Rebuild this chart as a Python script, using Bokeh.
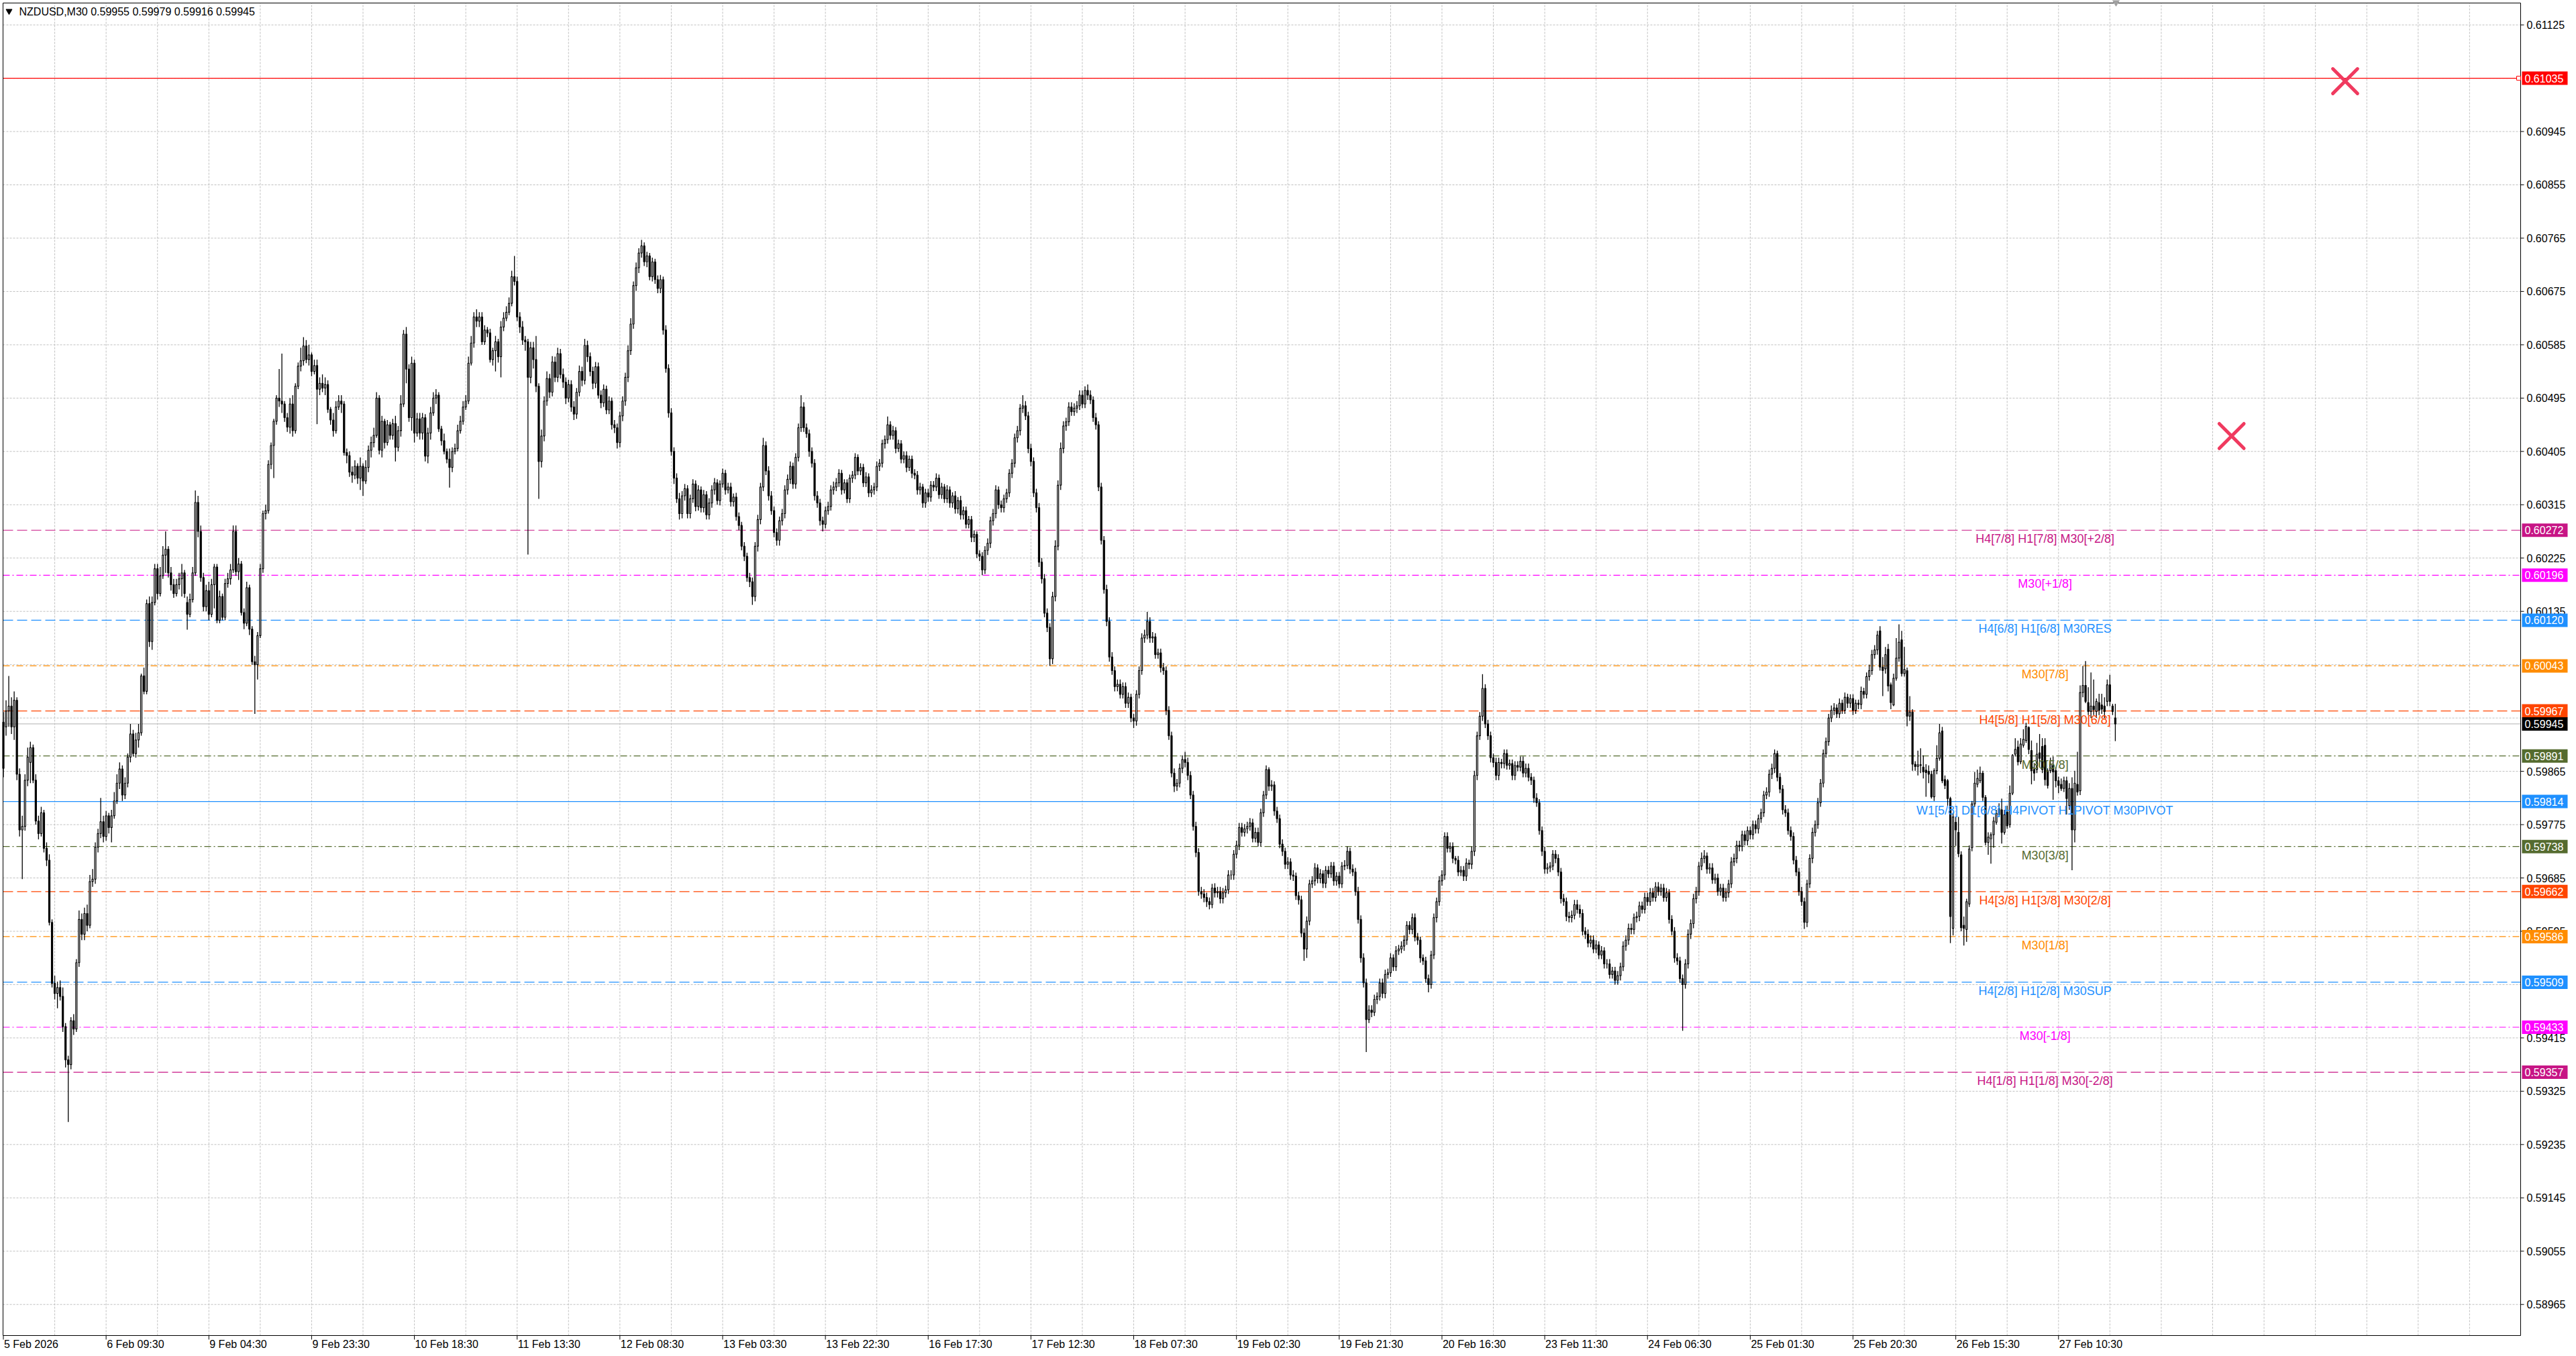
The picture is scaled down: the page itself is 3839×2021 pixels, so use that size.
from bokeh.plotting import figure
from bokeh.models import Range1d, ColumnDataSource
from bokeh.core.properties import value
from bokeh.embed import file_html
from bokeh.resources import INLINE

# ======================= data =======================
HEADER = "NZDUSD,M30  0.59955 0.59979 0.59916 0.59945"
BASE = 0.59          # OHLC values below are points (0.00001) above BASE
POINT = 0.00001

OPEN = [948, 940, 967, 975, 940, 985, 860, 766, 772, 850,
        880, 905, 850, 781, 760, 795, 735, 715, 610, 507,
        490, 500, 485, 434, 378, 370, 444, 430, 542, 615,
        590, 625, 605, 679, 683, 737, 760, 780, 755, 790,
        770, 790, 815, 845, 869, 825, 845, 889, 928, 895,
        918, 930, 1026, 1000, 1148, 1084, 1150, 1207, 1165, 1195,
        1230, 1240, 1200, 1180, 1165, 1180, 1190, 1200, 1150, 1130,
        1155, 1200, 1319, 1270, 1192, 1143, 1170, 1130, 1180, 1210,
        1120, 1160, 1125, 1182, 1190, 1205, 1270, 1202, 1215, 1133,
        1115, 1175, 1105, 1050, 1045, 1094, 1207, 1300, 1305, 1383,
        1415, 1456, 1495, 1490, 1485, 1462, 1446, 1485, 1440, 1515,
        1549, 1558, 1583, 1560, 1568, 1540, 1550, 1510, 1520, 1512,
        1518, 1476, 1458, 1440, 1480, 1490, 1485, 1403, 1398, 1370,
        1365, 1380, 1360, 1380, 1355, 1378, 1407, 1420, 1432, 1495,
        1407, 1456, 1420, 1450, 1432, 1452, 1412, 1440, 1485, 1603,
        1544, 1462, 1554, 1436, 1460, 1436, 1462, 1397, 1436, 1470,
        1495, 1500, 1443, 1423, 1405, 1392, 1378, 1405, 1410, 1440,
        1456, 1480, 1490, 1554, 1588, 1632, 1625, 1632, 1590, 1610,
        1605, 1560, 1575, 1590, 1565, 1615, 1630, 1640, 1655, 1700,
        1692, 1632, 1615, 1593, 1590, 1530, 1580, 1560, 1515,
        1388, 1431, 1490, 1528, 1505, 1556, 1530, 1570, 1535, 1522,
        1495, 1518, 1480, 1468, 1505, 1540, 1525, 1584, 1565, 1540,
        1520, 1548, 1500, 1487, 1510, 1475, 1490, 1450, 1445, 1420,
        1465, 1490, 1530, 1575, 1620, 1685, 1715, 1740, 1752, 1725,
        1735, 1700, 1725, 1695, 1680, 1695, 1610, 1545, 1470, 1405,
        1360, 1325, 1300, 1330, 1342, 1300, 1325, 1350, 1312, 1340,
        1310, 1332, 1298, 1318, 1340, 1352, 1322, 1350, 1368, 1340,
        1345, 1320, 1328, 1295, 1280, 1245, 1228, 1192, 1185, 1160,
        1245, 1290, 1345, 1415, 1372, 1330, 1305, 1268, 1255, 1288,
        1300, 1340, 1358, 1380, 1350, 1395, 1445, 1480, 1445, 1435,
        1405, 1385, 1330, 1318, 1288, 1282, 1305, 1312, 1340, 1345,
        1352, 1368, 1340, 1352, 1325, 1360, 1365, 1395, 1372, 1378,
        1352, 1362, 1335, 1340, 1345, 1380, 1385, 1418, 1425, 1450,
        1432, 1440, 1410, 1418, 1392, 1398, 1378, 1392, 1368, 1365,
        1340, 1345, 1318, 1335, 1328, 1348, 1345, 1360, 1332, 1345,
        1325, 1340, 1318, 1330, 1308, 1322, 1298, 1305, 1282, 1290,
        1260, 1265, 1232, 1228, 1205, 1238, 1250, 1288, 1300, 1340,
        1315, 1310, 1325, 1335, 1368, 1385, 1428, 1440, 1478, 1482,
        1465, 1410, 1388, 1335, 1310, 1218, 1190, 1132, 1108, 1055,
        1160, 1245, 1348, 1410, 1448, 1455, 1480, 1472, 1478, 1482,
        1500, 1485, 1508, 1500, 1492, 1462, 1450, 1345, 1255, 1172,
        1118, 1058, 1035, 1008, 1012, 995, 1008, 980, 990, 955,
        950, 995, 1035, 1090, 1095, 1118, 1090, 1092, 1062, 1065,
        1040, 1035, 968, 925, 862, 840, 845, 870, 885, 880,
        858, 825, 772, 728, 662, 658, 652, 645, 640, 668,
        660, 662, 650, 660, 665, 690, 690, 725, 740, 770,
        762, 768, 772, 778, 752, 762, 745, 795, 825, 868,
        840, 842, 798, 785, 742, 730, 708, 712, 690, 688,
        655, 648, 592, 565, 612, 675, 680, 702, 684, 692,
        676, 698, 692, 705, 680, 688, 675, 705, 706, 730,
        700, 695, 662, 615, 550, 508, 446, 462, 458, 480,
        485, 508, 490, 522, 525, 550, 535, 562, 565, 570,
        580, 605, 598, 618, 585, 580, 550, 545, 515, 505,
        555, 618, 645, 680, 690, 755, 735, 738, 718, 715,
        695, 698, 688, 710, 708, 730, 858, 925, 958, 1005,
        945, 925, 888, 880, 858, 880, 878, 895, 875, 878,
        858, 875, 872, 882, 862, 870, 855, 850, 820, 812,
        765, 730, 700, 702, 705, 725, 718, 695, 650, 645,
        620, 618, 622, 640, 632, 625, 595, 590, 575, 580,
        565, 572, 555, 562, 540, 540, 522, 528, 512, 520,
        535, 570, 580, 600, 598, 618, 620, 638, 632, 652,
        645, 660, 652, 670, 662, 668, 652, 660, 615, 595,
        550, 545, 515, 505, 540, 590, 608, 650, 662, 705,
        718, 722, 700, 702, 682, 685, 662, 668, 652, 660,
        675, 712, 718, 740, 738, 758, 748, 765, 758, 775,
        768, 785, 795, 825, 830, 860, 870, 895, 855, 835,
        800, 795, 765, 755, 715, 695, 662, 645, 610, 675,
        718, 762, 775, 812, 845, 895, 915, 955, 968, 972,
        962, 980, 968, 990, 980, 988, 968, 980, 978, 1000,
        995, 1025, 1035, 1062, 1070,
        1102, 1041, 1038, 1071, 1011, 977, 1022, 1056, 1087, 1030,
        1035, 958, 965, 877, 873, 876, 872, 867, 865, 860,
        822, 866, 887, 933, 851, 849, 819, 600, 779, 762,
        724, 605, 598, 641, 736, 810, 843, 849, 862, 821,
        745, 751, 758, 779, 792, 800, 762, 796, 775, 828,
        894, 906, 881, 909, 917, 939, 900, 868, 868, 896,
        907, 909, 866, 866, 875, 866, 849, 843, 836, 849,
        807, 836, 766, 843, 832, 998, 1010, 981, 966, 975,
        966, 981, 977, 975, 983, 1011, 975, 955]

HIGH = [965, 985, 1026, 990, 1000, 990, 870, 790, 860, 905,
        915, 910, 860, 790, 805, 800, 745, 725, 615, 520,
        510, 512, 500, 440, 385, 450, 455, 548, 630, 625,
        635, 640, 690, 700, 745, 768, 820, 790, 798, 795,
        800, 830, 860, 880, 875, 855, 895, 945, 935, 930,
        945, 1030, 1040, 1155, 1160, 1160, 1215, 1215, 1210, 1245,
        1270, 1245, 1210, 1190, 1190, 1200, 1215, 1205, 1160, 1165,
        1210, 1339, 1330, 1280, 1200, 1180, 1185, 1190, 1215, 1215,
        1170, 1165, 1190, 1200, 1215, 1280, 1280, 1225, 1220, 1140,
        1185, 1180, 1110, 1060, 1100, 1215, 1305, 1315, 1390, 1420,
        1460, 1500, 1544, 1570, 1490, 1470, 1495, 1500, 1520, 1555,
        1580, 1598, 1593, 1585, 1572, 1560, 1560, 1530, 1535, 1530,
        1525, 1480, 1470, 1490, 1500, 1500, 1490, 1410, 1405, 1380,
        1390, 1385, 1395, 1385, 1390, 1415, 1430, 1445, 1505, 1500,
        1465, 1460, 1458, 1455, 1460, 1465, 1448, 1500, 1610, 1615,
        1552, 1565, 1560, 1470, 1470, 1470, 1468, 1445, 1480, 1505,
        1510, 1505, 1448, 1435, 1410, 1410, 1412, 1418, 1450, 1465,
        1490, 1500, 1565, 1600, 1640, 1645, 1640, 1640, 1618, 1615,
        1612, 1580, 1600, 1595, 1625, 1640, 1650, 1665, 1710, 1735,
        1700, 1640, 1625, 1600, 1595, 1590, 1590, 1600, 1520,
        1442, 1498, 1540, 1536, 1566, 1565, 1580, 1578, 1545, 1530,
        1526, 1525, 1490, 1512, 1550, 1548, 1595, 1592, 1572, 1548,
        1556, 1555, 1508, 1518, 1516, 1498, 1496, 1458, 1452, 1472,
        1498, 1538, 1584, 1630, 1692, 1724, 1748, 1762, 1758, 1742,
        1740, 1732, 1730, 1702, 1703, 1700, 1618, 1552, 1478, 1412,
        1368, 1335, 1338, 1350, 1348, 1332, 1358, 1356, 1348, 1346,
        1340, 1338, 1326, 1348, 1360, 1358, 1356, 1376, 1374, 1352,
        1352, 1334, 1335, 1302, 1286, 1252, 1234, 1200, 1192, 1252,
        1298, 1352, 1428, 1422, 1380, 1338, 1312, 1275, 1295, 1308,
        1348, 1366, 1388, 1386, 1402, 1452, 1500, 1488, 1452, 1442,
        1412, 1392, 1338, 1325, 1295, 1312, 1320, 1348, 1354, 1360,
        1375, 1374, 1358, 1358, 1366, 1372, 1402, 1400, 1385, 1384,
        1370, 1368, 1348, 1352, 1388, 1392, 1425, 1432, 1464, 1456,
        1448, 1446, 1425, 1424, 1405, 1405, 1398, 1398, 1375, 1372,
        1352, 1350, 1342, 1342, 1355, 1355, 1368, 1366, 1352, 1350,
        1348, 1346, 1336, 1338, 1328, 1330, 1312, 1312, 1296, 1296,
        1272, 1270, 1238, 1235, 1245, 1258, 1295, 1308, 1348, 1346,
        1322, 1332, 1342, 1375, 1392, 1435, 1448, 1485, 1500, 1490,
        1472, 1418, 1395, 1342, 1318, 1225, 1198, 1140, 1115, 1168,
        1255, 1356, 1420, 1456, 1462, 1488, 1488, 1486, 1490, 1508,
        1508, 1515, 1518, 1508, 1498, 1470, 1456, 1352, 1262, 1180,
        1125, 1066, 1042, 1020, 1020, 1015, 1015, 998, 996, 962,
        1002, 1042, 1098, 1104, 1134, 1125, 1100, 1098, 1072, 1072,
        1048, 1042, 975, 932, 870, 852, 878, 892, 898, 888,
        865, 832, 780, 735, 670, 666, 660, 652, 675, 676,
        670, 670, 668, 672, 698, 698, 732, 748, 778, 778,
        776, 780, 786, 785, 770, 770, 802, 832, 875, 872,
        850, 848, 805, 792, 750, 736, 720, 718, 698, 694,
        662, 655, 600, 620, 682, 688, 710, 708, 700, 698,
        705, 705, 712, 712, 695, 695, 712, 715, 738, 736,
        708, 702, 670, 622, 558, 515, 470, 470, 488, 492,
        515, 515, 530, 532, 558, 556, 570, 572, 578, 588,
        612, 612, 625, 625, 592, 586, 556, 552, 522, 562,
        625, 652, 688, 698, 762, 762, 745, 745, 722, 722,
        705, 705, 718, 716, 738, 866, 932, 965, 1029, 1012,
        952, 932, 895, 888, 888, 886, 902, 902, 885, 885,
        882, 882, 890, 890, 878, 878, 862, 856, 828, 818,
        772, 738, 710, 712, 732, 732, 725, 702, 658, 652,
        628, 630, 648, 648, 640, 632, 602, 598, 588, 588,
        580, 578, 570, 568, 548, 548, 535, 535, 528, 542,
        578, 588, 608, 608, 625, 628, 645, 645, 660, 660,
        668, 668, 678, 678, 675, 675, 668, 666, 622, 602,
        558, 552, 522, 548, 598, 615, 658, 670, 712, 728,
        732, 728, 710, 710, 692, 692, 675, 675, 668, 682,
        720, 726, 748, 748, 765, 765, 772, 772, 782, 782,
        792, 802, 832, 838, 868, 878, 902, 900, 862, 842,
        808, 802, 772, 762, 722, 702, 670, 652, 682, 725,
        770, 782, 820, 852, 902, 922, 962, 976, 980, 978,
        988, 986, 998, 996, 995, 995, 986, 986, 1008, 1006,
        1032, 1045, 1070, 1078, 1102,
        1110, 1058, 1075, 1080, 1015, 1030, 1090, 1113, 1102, 1075,
        1040, 992, 970, 882, 900, 904, 892, 877, 875, 866,
        870, 909, 945, 940, 858, 852, 822, 795, 788, 788,
        730, 620, 650, 740, 815, 864, 868, 873, 866, 825,
        762, 762, 788, 800, 811, 819, 800, 807, 841, 894,
        921, 917, 921, 936, 947, 941, 917, 879, 913, 928,
        921, 921, 870, 888, 890, 872, 856, 853, 856, 856,
        845, 855, 866, 898, 1010, 1043, 1051, 1007, 1032, 1020,
        988, 996, 996, 990, 1020, 1028, 979, 979]

LOW = [855, 925, 940, 928, 918, 850, 755, 683, 765, 840,
       845, 845, 775, 750, 755, 728, 705, 605, 500, 480,
       465, 478, 425, 365, 273, 362, 420, 425, 535, 580,
       580, 595, 600, 670, 675, 728, 752, 745, 748, 760,
       745, 785, 810, 835, 815, 818, 838, 880, 890, 888,
       905, 925, 995, 995, 1075, 1070, 1145, 1155, 1160, 1190,
       1200, 1192, 1170, 1158, 1160, 1172, 1160, 1158, 1104, 1125,
       1150, 1195, 1260, 1185, 1135, 1135, 1120, 1125, 1140, 1115,
       1115, 1120, 1120, 1175, 1180, 1200, 1195, 1188, 1128, 1105,
       1110, 1095, 1045, 962, 1020, 1090, 1200, 1290, 1300, 1375,
       1360, 1450, 1480, 1470, 1455, 1438, 1435, 1430, 1435, 1510,
       1540, 1550, 1554, 1550, 1532, 1535, 1451, 1500, 1505, 1500,
       1470, 1450, 1430, 1435, 1475, 1470, 1398, 1385, 1362, 1352,
       1358, 1350, 1340, 1330, 1350, 1370, 1395, 1412, 1428, 1400,
       1395, 1410, 1415, 1425, 1425, 1388, 1405, 1430, 1480, 1520,
       1455, 1440, 1420, 1430, 1425, 1425, 1388, 1385, 1425, 1465,
       1485, 1438, 1415, 1400, 1385, 1344, 1370, 1400, 1405, 1435,
       1450, 1475, 1485, 1550, 1580, 1615, 1615, 1585, 1585, 1598,
       1555, 1550, 1540, 1555, 1530, 1608, 1625, 1635, 1650, 1685,
       1625, 1605, 1585, 1575, 1231, 1520, 1545, 1505, 1325,
       1378, 1422, 1482, 1495, 1498, 1522, 1522, 1528, 1512, 1485,
       1488, 1472, 1458, 1460, 1498, 1515, 1518, 1556, 1532, 1510,
       1512, 1494, 1478, 1480, 1468, 1468, 1442, 1436, 1410, 1412,
       1456, 1482, 1522, 1568, 1612, 1676, 1706, 1732, 1718, 1716,
       1694, 1692, 1688, 1672, 1672, 1602, 1538, 1462, 1398, 1350,
       1318, 1290, 1292, 1322, 1292, 1292, 1318, 1304, 1305, 1302,
       1302, 1290, 1290, 1310, 1332, 1315, 1314, 1344, 1332, 1334,
       1312, 1312, 1288, 1272, 1238, 1220, 1185, 1176, 1146, 1152,
       1236, 1282, 1338, 1365, 1322, 1298, 1260, 1246, 1246, 1280,
       1292, 1332, 1350, 1342, 1342, 1388, 1438, 1438, 1428, 1396,
       1378, 1322, 1310, 1280, 1270, 1275, 1298, 1305, 1332, 1338,
       1345, 1332, 1334, 1318, 1318, 1352, 1358, 1365, 1365, 1345,
       1345, 1328, 1328, 1332, 1338, 1372, 1378, 1410, 1418, 1425,
       1425, 1402, 1404, 1385, 1385, 1370, 1372, 1360, 1358, 1332,
       1332, 1310, 1310, 1320, 1320, 1338, 1338, 1325, 1325, 1318,
       1318, 1310, 1310, 1300, 1300, 1290, 1290, 1275, 1275, 1252,
       1252, 1225, 1220, 1196, 1198, 1230, 1242, 1280, 1292, 1308,
       1302, 1302, 1318, 1328, 1360, 1378, 1420, 1432, 1470, 1458,
       1402, 1380, 1328, 1302, 1210, 1182, 1125, 1100, 1043, 1046,
       1152, 1238, 1340, 1402, 1440, 1448, 1465, 1465, 1470, 1475,
       1478, 1478, 1492, 1485, 1455, 1442, 1338, 1248, 1165, 1110,
       1050, 1028, 1000, 1000, 988, 988, 972, 972, 948, 938,
       942, 988, 1028, 1082, 1088, 1082, 1082, 1055, 1055, 1032,
       1028, 960, 918, 855, 830, 832, 838, 862, 872, 850,
       818, 765, 720, 655, 650, 644, 636, 632, 634, 652,
       652, 642, 642, 652, 658, 682, 682, 718, 732, 755,
       755, 760, 765, 745, 745, 738, 738, 788, 818, 832,
       832, 790, 778, 735, 722, 700, 700, 682, 680, 648,
       640, 585, 545, 550, 605, 668, 672, 676, 676, 668,
       668, 685, 685, 672, 672, 668, 668, 698, 700, 692,
       688, 655, 608, 542, 500, 391, 440, 450, 452, 472,
       478, 482, 482, 515, 518, 528, 528, 555, 558, 562,
       572, 590, 590, 578, 572, 542, 538, 508, 492, 498,
       548, 610, 638, 672, 682, 728, 728, 710, 708, 688,
       688, 680, 680, 700, 700, 722, 850, 918, 950, 938,
       918, 880, 872, 850, 850, 870, 870, 868, 868, 850,
       850, 865, 865, 855, 855, 848, 842, 812, 805, 758,
       722, 692, 692, 695, 698, 710, 688, 642, 638, 612,
       610, 610, 615, 625, 618, 588, 582, 568, 568, 558,
       558, 548, 548, 532, 532, 515, 515, 505, 505, 512,
       528, 562, 572, 590, 590, 610, 612, 625, 625, 638,
       638, 645, 645, 655, 655, 645, 645, 608, 588, 542,
       538, 508, 427, 498, 532, 582, 600, 642, 655, 698,
       710, 692, 692, 675, 675, 655, 655, 645, 645, 652,
       668, 705, 710, 730, 730, 740, 740, 750, 750, 760,
       760, 778, 788, 818, 822, 852, 862, 848, 828, 792,
       788, 758, 748, 708, 688, 655, 638, 599, 602, 668,
       710, 755, 768, 805, 838, 888, 908, 948, 960, 955,
       955, 962, 962, 972, 972, 960, 962, 970, 970, 988,
       988, 1018, 1028, 1055, 1062,
       1035, 992, 1030, 1000, 970, 975, 1018, 1050, 1025, 1025,
       941, 950, 866, 866, 858, 862, 853, 822, 845, 819,
       815, 860, 883, 845, 835, 807, 575, 588, 739, 720,
       595, 571, 577, 636, 730, 805, 838, 845, 815, 740,
       724, 709, 736, 775, 788, 743, 758, 768, 770, 825,
       890, 875, 877, 905, 913, 894, 843, 849, 862, 872,
       862, 841, 836, 862, 817, 838, 828, 832, 830, 792,
       800, 698, 745, 824, 825, 990, 980, 960, 955, 960,
       955, 960, 962, 955, 975, 975, 960, 916]

CLOSE = [870, 967, 975, 940, 985, 860, 766, 772, 850, 889,
         905, 850, 781, 760, 795, 735, 715, 610, 507, 490,
         500, 485, 434, 378, 370, 444, 430, 542, 615, 590,
         625, 605, 679, 683, 737, 760, 780, 755, 790, 770,
         790, 815, 845, 869, 825, 845, 889, 928, 895, 918,
         930, 1026, 1000, 1148, 1084, 1150, 1207, 1165, 1195, 1230,
         1240, 1200, 1180, 1165, 1180, 1190, 1200, 1165, 1130, 1155,
         1200, 1319, 1270, 1192, 1143, 1170, 1130, 1180, 1210, 1120,
         1160, 1125, 1182, 1190, 1205, 1270, 1202, 1215, 1133, 1115,
         1175, 1105, 1050, 1045, 1094, 1207, 1300, 1305, 1383, 1415,
         1456, 1495, 1490, 1485, 1462, 1446, 1485, 1440, 1515, 1549,
         1558, 1583, 1560, 1568, 1540, 1550, 1510, 1520, 1512, 1518,
         1476, 1458, 1440, 1480, 1490, 1485, 1403, 1398, 1370, 1365,
         1380, 1360, 1380, 1355, 1378, 1407, 1420, 1432, 1495, 1407,
         1456, 1420, 1450, 1432, 1452, 1412, 1440, 1485, 1603, 1544,
         1462, 1554, 1436, 1460, 1436, 1462, 1397, 1436, 1470, 1495,
         1500, 1443, 1423, 1405, 1392, 1378, 1405, 1410, 1440, 1456,
         1480, 1490, 1554, 1588, 1632, 1625, 1632, 1590, 1610, 1605,
         1560, 1575, 1590, 1565, 1615, 1630, 1640, 1655, 1700, 1692,
         1632, 1615, 1593, 1590, 1530, 1580, 1560, 1515, 1388,
         1431, 1490, 1528, 1505, 1556, 1530, 1570, 1535, 1522, 1495,
         1518, 1480, 1468, 1505, 1540, 1525, 1584, 1565, 1540, 1520,
         1548, 1500, 1487, 1510, 1475, 1490, 1450, 1445, 1420, 1465,
         1490, 1530, 1575, 1620, 1685, 1715, 1740, 1752, 1725, 1735,
         1700, 1725, 1695, 1680, 1695, 1610, 1545, 1470, 1405, 1360,
         1325, 1300, 1330, 1342, 1300, 1325, 1350, 1312, 1340, 1310,
         1332, 1298, 1318, 1340, 1352, 1322, 1350, 1368, 1340, 1345,
         1320, 1328, 1295, 1280, 1245, 1228, 1192, 1185, 1160, 1245,
         1290, 1345, 1415, 1372, 1330, 1305, 1268, 1255, 1288, 1300,
         1340, 1358, 1380, 1350, 1395, 1445, 1480, 1445, 1435, 1405,
         1385, 1330, 1318, 1288, 1282, 1305, 1312, 1340, 1345, 1352,
         1368, 1340, 1352, 1325, 1360, 1365, 1395, 1372, 1378, 1352,
         1362, 1335, 1340, 1345, 1380, 1385, 1418, 1425, 1450, 1432,
         1440, 1410, 1418, 1392, 1398, 1378, 1392, 1368, 1365, 1340,
         1345, 1318, 1335, 1328, 1348, 1345, 1360, 1332, 1345, 1325,
         1340, 1318, 1330, 1308, 1322, 1298, 1305, 1282, 1290, 1260,
         1265, 1232, 1228, 1205, 1238, 1250, 1288, 1300, 1340, 1315,
         1310, 1325, 1335, 1368, 1385, 1428, 1440, 1478, 1482, 1465,
         1410, 1388, 1335, 1310, 1218, 1190, 1132, 1108, 1055, 1160,
         1245, 1348, 1410, 1448, 1455, 1480, 1472, 1478, 1482, 1500,
         1485, 1508, 1500, 1492, 1462, 1450, 1345, 1255, 1172, 1118,
         1058, 1035, 1008, 1012, 995, 1008, 980, 990, 955, 950,
         995, 1035, 1090, 1095, 1118, 1090, 1092, 1062, 1065, 1040,
         1035, 968, 925, 862, 840, 845, 870, 885, 880, 858,
         825, 772, 728, 662, 658, 652, 645, 640, 668, 660,
         662, 650, 660, 665, 690, 690, 725, 740, 770, 762,
         768, 772, 778, 752, 762, 745, 795, 825, 868, 840,
         842, 798, 785, 742, 730, 708, 712, 690, 688, 655,
         648, 592, 565, 612, 675, 680, 702, 684, 692, 676,
         698, 692, 705, 680, 688, 675, 705, 706, 730, 700,
         695, 662, 615, 550, 508, 446, 462, 458, 480, 485,
         508, 490, 522, 525, 550, 535, 562, 565, 570, 580,
         605, 598, 618, 585, 580, 550, 545, 515, 505, 555,
         618, 645, 680, 690, 755, 735, 738, 718, 715, 695,
         698, 688, 710, 708, 730, 858, 925, 958, 1005, 945,
         925, 888, 880, 858, 880, 878, 895, 875, 878, 858,
         875, 872, 882, 862, 870, 855, 850, 820, 812, 765,
         730, 700, 702, 705, 725, 718, 695, 650, 645, 620,
         618, 622, 640, 632, 625, 595, 590, 575, 580, 565,
         572, 555, 562, 540, 540, 522, 528, 512, 520, 535,
         570, 580, 600, 598, 618, 620, 638, 632, 652, 645,
         660, 652, 670, 662, 668, 652, 660, 615, 595, 550,
         545, 515, 505, 540, 590, 608, 650, 662, 705, 718,
         722, 700, 702, 682, 685, 662, 668, 652, 660, 675,
         712, 718, 740, 738, 758, 748, 765, 758, 775, 768,
         785, 795, 825, 830, 860, 870, 895, 855, 835, 800,
         795, 765, 755, 715, 695, 662, 645, 610, 675, 718,
         762, 775, 812, 845, 895, 915, 955, 968, 972, 962,
         980, 968, 990, 980, 988, 968, 980, 978, 1000, 995,
         1025, 1035, 1062, 1070, 1095,
         1041, 1035, 1062, 1009, 981, 1022, 1056, 1083, 1030, 1037,
         958, 965, 877, 873, 876, 875, 864, 863, 860, 822,
         866, 887, 930, 849, 841, 819, 620, 788, 766, 726,
         601, 600, 645, 734, 810, 845, 853, 862, 821, 745,
         754, 758, 781, 794, 802, 762, 792, 773, 828, 892,
         902, 881, 911, 919, 941, 902, 866, 862, 894, 887,
         868, 851, 841, 877, 864, 849, 841, 836, 849, 819,
         836, 766, 845, 830, 998, 1010, 983, 966, 975, 969,
         983, 968, 970, 966, 1011, 983, 966, 945]

DATE_BARS = [0, 38, 76, 114, 152, 190, 228, 266, 304, 342, 380,
             418, 456, 494, 532, 570, 608, 646, 684, 722, 760]
DATE_LABELS = ["5 Feb 2026", "6 Feb 09:30", "9 Feb 04:30", "9 Feb 23:30", "10 Feb 18:30",
               "11 Feb 13:30", "12 Feb 08:30", "13 Feb 03:30", "13 Feb 22:30", "16 Feb 17:30",
               "17 Feb 12:30", "18 Feb 07:30", "19 Feb 02:30", "19 Feb 21:30", "20 Feb 16:30",
               "23 Feb 11:30", "24 Feb 06:30", "25 Feb 01:30", "25 Feb 20:30", "26 Feb 15:30",
               "27 Feb 10:30"]

PRICE_TICKS = [0.58965, 0.59055, 0.59145, 0.59235, 0.59325, 0.59415, 0.59505, 0.59595,
               0.59685, 0.59775, 0.59865, 0.59955, 0.60045, 0.60135, 0.60225, 0.60315,
               0.60405, 0.60495, 0.60585, 0.60675, 0.60765, 0.60855, 0.60945, 0.61035, 0.61125]
HIDDEN_TICKS = [0.59505, 0.59955, 0.60045, 0.61035]   # hidden behind price tags

LEVEL_PRICES = [0.61035, 0.60272, 0.60196, 0.60120, 0.60043, 0.59967, 0.59891,
                0.59814, 0.59738, 0.59662, 0.59586, 0.59509, 0.59433, 0.59357]
LEVEL_NAMES = ["", "H4[7/8] H1[7/8] M30[+2/8]", "M30[+1/8]", "H4[6/8] H1[6/8] M30RES",
               "M30[7/8]", "H4[5/8] H1[5/8] M30[6/8]", "M30[5/8]",
               "W1[5/8] D1[6/8] H4PIVOT H1PIVOT M30PIVOT", "M30[3/8]",
               "H4[3/8] H1[3/8] M30[2/8]", "M30[1/8]", "H4[2/8] H1[2/8] M30SUP",
               "M30[-1/8]", "H4[1/8] H1[1/8] M30[-2/8]"]
LEVEL_COLORS = ["#FF0000", "#C71585", "#FF00FF", "#1E90FF", "#FF8C00", "#FF4500", "#556B2F",
                "#1E90FF", "#556B2F", "#FF4500", "#FF8C00", "#1E90FF", "#FF00FF", "#C71585"]
LEVEL_STYLES = ["solid", "dash", "dashdot", "dash", "dashdot", "dash", "dashdot",
                "solid", "dashdot", "dash", "dashdot", "dash", "dashdot", "dash"]
LEVEL_TEXT_BAR = 755

BID = 0.59945
CROSS_BARS = [866, 824]
CROSS_PRICES = [0.61030, 0.60431]

# ======================= layout (pixels of the 3836 x 2018 canvas) =======================
W, H = 3836, 2018
PX_PER_BAR, BAR0_PX = 4.03, 4.5
PRICE_PER_PX, REF_PRICE, REF_PX = 1.1326e-5, 0.61125, 36.6
LEFT, RIGHT, TOP, BOTTOM = 4, 3756, 4, 1990
FONT = "Liberation Sans"
DASHES = {"solid": "solid", "dash": "15 6", "dashdot": "10 4 2 4"}


def bx(px):
    return (px - BAR0_PX) / PX_PER_BAR


def py(px):
    return REF_PRICE - (px - REF_PX) * PRICE_PER_PX


p = figure(width=W, height=H, output_backend="svg", toolbar_location=None,
           x_range=Range1d(bx(0), bx(W)), y_range=Range1d(py(H), py(0)),
           x_axis_location=None, y_axis_location=None, min_border=0,
           outline_line_color=None, background_fill_color="white",
           border_fill_color="white")
p.xgrid.visible = False
p.ygrid.visible = False

xl, xr, yt, yb = bx(LEFT), bx(RIGHT), py(TOP), py(BOTTOM)

# grid
p.segment(x0=xl, y0=PRICE_TICKS, x1=xr, y1=PRICE_TICKS,
          line_color="#c0c0c0", line_dash="3 2", line_width=1)
grid_bars = list(range(19, int(xr), 19))
p.segment(x0=grid_bars, y0=yb, x1=grid_bars, y1=yt,
          line_color="#c0c0c0", line_dash="3 2", line_width=1)

# level lines
for price, col, sty in zip(LEVEL_PRICES, LEVEL_COLORS, LEVEL_STYLES):
    p.segment(x0=[xl], y0=[price], x1=[xr], y1=[price], line_color=col,
              line_dash=DASHES[sty], line_width=1.2)
p.segment(x0=[xl], y0=[BID], x1=[xr], y1=[BID], line_color="#c0c0c0", line_width=1.2)

# candles
n = min(len(OPEN), len(HIGH), len(LOW), len(CLOSE))
o = [round(BASE + v * POINT, 5) for v in OPEN[:n]]
hi = [round(BASE + v * POINT, 5) for v in HIGH[:n]]
lo = [round(BASE + v * POINT, 5) for v in LOW[:n]]
c = [round(BASE + v * POINT, 5) for v in CLOSE[:n]]
src = ColumnDataSource(dict(
    x=list(range(n)), h=hi, l=lo,
    top=[max(a, b) for a, b in zip(o, c)],
    bot=[min(a, b) for a, b in zip(o, c)],
    fill=["white" if b >= a else "black" for a, b in zip(o, c)],
))
p.segment(x0="x", y0="h", x1="x", y1="l", source=src, line_color="black", line_width=1.3)
p.vbar(x="x", width=0.5, top="top", bottom="bot", fill_color="fill",
       line_color="black", line_width=1.2, source=src)

# level names
names = [(pr, nm, col) for pr, nm, col in zip(LEVEL_PRICES, LEVEL_NAMES, LEVEL_COLORS) if nm]
p.text(x=[LEVEL_TEXT_BAR] * len(names), y=[t[0] for t in names], text=[t[1] for t in names],
       text_color=[t[2] for t in names], text_align="center", text_baseline="top",
       y_offset=3, text_font=value(FONT), text_font_size="18px")

# red crosses
p.scatter(x=CROSS_BARS, y=CROSS_PRICES, marker="x", size=52, line_color="#F03A5F",
          line_width=5, line_cap="round")

# chart frame
p.quad(left=[xl], right=[xr], top=[yt], bottom=[yb], fill_color=None,
       line_color="black", line_width=1)
p.scatter(x=[bx(RIGHT - 3)], y=[LEVEL_PRICES[0]], marker="square", size=6,
          fill_color="white", line_color="#FF0000", line_width=1)
p.scatter(x=[bx(3153)], y=[py(3)], marker="inverted_triangle", size=10,
          fill_color="#a0a0a0", line_color="#a0a0a0")

# price scale (right)
shown = [t for t in PRICE_TICKS if t not in HIDDEN_TICKS]
p.segment(x0=xr, y0=shown, x1=bx(RIGHT + 5), y1=shown, line_color="black", line_width=1)
p.text(x=[xr] * len(shown), y=shown, text=[f"{t:.5f}" for t in shown], x_offset=9,
       text_align="left", text_baseline="middle", text_color="black",
       text_font=value(FONT), text_font_size="16px")

# price tags
tag_prices = LEVEL_PRICES + [BID]
tag_colors = LEVEL_COLORS + ["black"]
p.rect(x=bx(RIGHT + 2 + 34), y=tag_prices, width=68, height=20, width_units="screen",
       height_units="screen", fill_color=tag_colors, line_color=None)
p.text(x=[bx(RIGHT + 2)] * len(tag_prices), y=tag_prices,
       text=[f"{t:.5f}" for t in tag_prices], x_offset=4, text_align="left",
       text_baseline="middle", text_color="white", text_font=value(FONT),
       text_font_size="16px")

# time scale (bottom)
p.segment(x0=DATE_BARS, y0=yb, x1=DATE_BARS, y1=py(BOTTOM + 6), line_color="black", line_width=1)
p.text(x=DATE_BARS, y=[py(2003)] * len(DATE_BARS), text=DATE_LABELS, x_offset=1,
       text_align="left", text_baseline="middle", text_color="black",
       text_font=value(FONT), text_font_size="16px")

# header
p.scatter(x=[bx(13)], y=[py(16)], marker="inverted_triangle", size=9,
          fill_color="black", line_color="black")
p.text(x=[bx(28)], y=[py(17)], text=[HEADER], text_align="left", text_baseline="middle",
       text_color="black", text_font=value(FONT), text_font_size="16px")

open("out.html", "w").write(file_html(p, INLINE))
